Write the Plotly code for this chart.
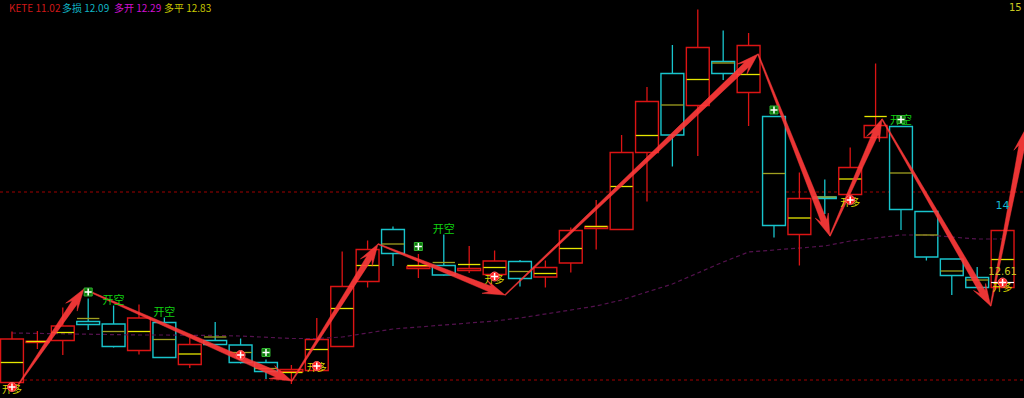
import math
import plotly.graph_objects as go

# ---------------- data ----------------
opens  = [10.52, 11.32, 11.36, 11.74, 11.69, 11.16, 11.72, 10.88, 11.36, 11.27,
          10.92, 10.74, 10.76, 11.24, 12.54, 13.58, 12.80, 12.86, 12.76, 12.68,
          12.94, 12.63, 12.91, 13.60, 13.58, 15.12, 16.70, 16.06, 16.94, 16.32,
          15.84, 13.48, 14.23, 14.28, 15.42, 15.64, 13.94, 12.99, 12.62, 12.42]
highs  = [11.54, 11.55, 12.02, 12.20, 12.06, 12.08, 11.82, 11.41, 11.73, 11.40,
          10.98, 10.87, 11.81, 13.14, 13.36, 13.64, 13.09, 13.48, 13.25, 13.16,
          12.97, 12.96, 13.62, 14.17, 15.47, 16.43, 17.27, 17.98, 17.56, 17.51,
          15.84, 14.72, 14.58, 15.22, 16.90, 15.64, 13.94, 12.99, 12.83, 13.56]
lows   = [10.50, 11.19, 11.07, 11.57, 11.22, 11.08, 11.01, 10.81, 11.27, 10.90,
          10.59, 10.49, 10.75, 11.24, 12.42, 12.85, 12.61, 12.66, 12.71, 12.68,
          12.44, 12.42, 12.72, 13.18, 13.58, 14.14, 14.84, 15.05, 16.57, 15.65,
          13.42, 12.86, 13.89, 14.28, 15.42, 13.57, 12.96, 12.27, 12.42, 12.42]
closes = [11.39, 11.34, 11.65, 11.68, 11.24, 11.81, 11.02, 11.28, 11.28, 10.92,
          10.74, 10.78, 11.38, 12.44, 13.18, 13.10, 12.84, 12.67, 12.80, 12.95,
          12.60, 12.82, 13.56, 13.64, 15.12, 16.14, 15.47, 17.22, 16.70, 17.26,
          13.66, 14.20, 14.20, 14.82, 15.66, 13.98, 13.03, 12.66, 12.42, 13.56]
mids   = [10.92, 11.34, 11.52, 11.80, 11.54, 11.54, 11.38, 11.09, 11.43, 11.12,
          10.80, 10.72, 11.18, 12.00, 12.86, 13.29, 12.86, 12.92, 12.88, 12.82,
          12.74, 12.70, 13.20, 13.64, 14.44, 15.46, 16.07, 16.58, 16.91, 16.68,
          14.70, 13.81, 14.23, 14.59, 15.84, 14.71, 13.47, 12.75, 12.57, 12.98]
ma     = [11.51, 11.50, 11.49, 11.49, 11.48, 11.47, 11.47, 11.47, 11.46, 11.45,
          11.43, 11.40, 11.40, 11.43, 11.51, 11.59, 11.63, 11.67, 11.71, 11.75,
          11.81, 11.89, 11.97, 12.05, 12.17, 12.33, 12.49, 12.71, 12.93, 13.13,
          13.17, 13.21, 13.25, 13.35, 13.41, 13.47, 13.47, 13.43, 13.39, 13.39]

levels = [14.33, 10.57]

zig_x = [0.24, 2.83, 11.02, 14.41, 19.41, 29.37, 32.20, 34.25, 38.53, 39.88]
zig_p = [10.47, 12.39, 10.55, 13.29, 12.27, 17.09, 13.45, 15.79, 12.05, 15.57]

long_idx = [0, 9, 12, 19, 33, 39]
long_mark = [10.43, 11.07, 10.85, 12.64, 14.17, 12.52]
long_lbl_idx = [0, 12, 19, 33, 39]
long_lbl_p = [10.37, 10.81, 12.57, 14.11, 12.40]

flag_idx = [3, 10, 16, 30, 35]
flag_p = [12.33, 11.12, 13.24, 15.97, 15.78]
short_lbl_idx = [4, 6, 17, 35]
short_lbl_p = [12.15, 11.91, 13.57, 15.75]

legend_texts = ["KETE 11.02", "多损 12.09", "多开 12.29", "多平 12.83"]
legend_colors = ["#d01818", "#10b4c4", "#d010d0", "#c8c800"]
legend_px = [8, 61, 113, 163]
last_price_text = "12.61"
last_price_pos = 12.73
last_line = 12.52
side_label = ("14", 14.05)

# ---------------- geometry ----------------
W, H = 1024, 398
X0, X1 = -0.472, 39.843
Y0, Y1 = 10.21, 18.17
RED = "#dc1414"
CYAN = "#18c4cc"
n = len(opens)
idx = list(range(n))


def px(i):
    return (i - X0) / (X1 - X0) * W


def py(p):
    return (Y1 - p) / (Y1 - Y0) * H


def ix(x):
    return X0 + x / W * (X1 - X0)


def ip(y):
    return Y1 - y / H * (Y1 - Y0)


fig = go.Figure()

# moving average (dashed purple)
fig.add_trace(go.Scatter(x=idx, y=ma, mode="lines",
                         line=dict(color="#54124e", width=1.2, dash="4px,3px"),
                         hoverinfo="skip"))

# wicks
for up in (True, False):
    wx, wy = [], []
    for i in idx:
        o, c = opens[i], closes[i]
        if (c >= o) != up:
            continue
        top, bot = max(o, c), min(o, c)
        if highs[i] > top:
            wx += [i, i, None]
            wy += [highs[i], top, None]
        if lows[i] < bot:
            wx += [i, i, None]
            wy += [bot, lows[i], None]
    fig.add_trace(go.Scatter(x=wx, y=wy, mode="lines",
                             line=dict(color=RED if up else CYAN, width=1.3),
                             hoverinfo="skip"))

# bodies (hollow)
for up in (True, False):
    bx, bb, bh = [], [], []
    for i in idx:
        o, c = opens[i], closes[i]
        if (c >= o) != up:
            continue
        bx.append(i)
        bb.append(min(o, c))
        bh.append(max(abs(c - o), 0.025))
    fig.add_trace(go.Bar(x=bx, y=bh, base=bb, width=0.9,
                         marker=dict(color="black",
                                     line=dict(color=RED if up else CYAN, width=1.4)),
                         hoverinfo="skip"))

# mid lines
for up in (True, False):
    mx, my = [], []
    for i in idx:
        if (closes[i] >= opens[i]) != up:
            continue
        mx += [i - 0.44, i + 0.44, None]
        my += [mids[i], mids[i], None]
    fig.add_trace(go.Scatter(x=mx, y=my, mode="lines",
                             line=dict(color="#e6e600" if up else "#a0a020", width=1.3),
                             hoverinfo="skip"))

# arrows (tapered polygons built in pixel space)
for k in range(len(zig_x) - 1):
    sx, sy = px(zig_x[k]), py(zig_p[k])
    ex, ey = px(zig_x[k + 1]), py(zig_p[k + 1])
    L = math.hypot(ex - sx, ey - sy)
    ux, uy = (ex - sx) / L, (ey - sy) / L
    nx, ny = -uy, ux
    hl, hw, w0, w1 = 22.0, 7.0, 1.0, 6.0
    cx, cy = ex - ux * hl, ey - uy * hl
    jx, jy = ex - ux * (hl - 6), ey - uy * (hl - 6)
    pts = [(sx + nx * w0 / 2, sy + ny * w0 / 2),
           (jx + nx * w1 / 2, jy + ny * w1 / 2),
           (cx + nx * hw, cy + ny * hw),
           (ex, ey),
           (cx - nx * hw, cy - ny * hw),
           (jx - nx * w1 / 2, jy - ny * w1 / 2),
           (sx - nx * w0 / 2, sy - ny * w0 / 2)]
    fig.add_trace(go.Scatter(x=[ix(p[0]) for p in pts] + [ix(pts[0][0])],
                             y=[ip(p[1]) for p in pts] + [ip(pts[0][1])],
                             mode="lines", fill="toself",
                             fillcolor="rgba(255,58,58,0.92)",
                             line=dict(color="rgba(255,58,58,0.92)", width=0.5),
                             hoverinfo="skip"))

# last price white line
fig.add_trace(go.Scatter(x=[n - 1 - 0.45, n - 1 + 0.45], y=[last_line, last_line],
                         mode="lines", line=dict(color="white", width=1.2),
                         hoverinfo="skip"))

# labels
fig.add_trace(go.Scatter(x=long_lbl_idx, y=long_lbl_p, mode="text", text=["开多"] * len(long_lbl_idx),
                         textfont=dict(color="#d8d800", size=10, family="Noto Sans CJK SC"),
                         hoverinfo="skip"))
fig.add_trace(go.Scatter(x=short_lbl_idx, y=short_lbl_p, mode="text", text=["开空"] * len(short_lbl_idx),
                         textfont=dict(color="#10d010", size=11, family="Noto Sans CJK SC"),
                         hoverinfo="skip"))

# signal markers
fig.add_trace(go.Scatter(x=flag_idx, y=flag_p, mode="markers",
                         marker=dict(symbol="square", size=8, color="#0a7a0a",
                                     line=dict(color="#30b030", width=1)),
                         hoverinfo="skip"))
fig.add_trace(go.Scatter(x=long_idx, y=long_mark, mode="markers",
                         marker=dict(symbol="circle", size=9, color="#ff2020",
                                     line=dict(color="#ff6060", width=1)),
                         hoverinfo="skip"))
fig.add_trace(go.Scatter(x=flag_idx + long_idx, y=flag_p + long_mark, mode="markers",
                         marker=dict(symbol="cross-thin", size=5,
                                     line=dict(color="white", width=1.5)),
                         hoverinfo="skip"))

# price labels on the right
fig.add_trace(go.Scatter(x=[n - 1], y=[last_price_pos], mode="text", text=[last_price_text],
                         textfont=dict(color="#c8c820", size=10, family="DejaVu Sans"),
                         hoverinfo="skip"))
fig.add_trace(go.Scatter(x=[n - 1], y=[side_label[1]], mode="text", text=[side_label[0]],
                         textfont=dict(color="#18b8d0", size=11, family="DejaVu Sans"),
                         hoverinfo="skip"))

shapes = [dict(type="line", xref="paper", yref="y", x0=0, x1=1, y0=lv, y1=lv,
               line=dict(color="#a00000", width=1, dash="3px,3px"), layer="below")
          for lv in levels]

annotations = []
for txt, col, xp in zip(legend_texts, legend_colors, legend_px):
    annotations.append(dict(x=xp / W, y=1 - 8 / H, xref="paper", yref="paper",
                            text=txt, showarrow=False, xanchor="left", yanchor="middle",
                            borderpad=0,
                            font=dict(color=col, size=10, family="Noto Sans CJK SC")))
annotations.append(dict(x=1 - 1 / W, y=1 - 8 / H, xref="paper", yref="paper", text="15",
                        showarrow=False, xanchor="right", yanchor="middle", borderpad=0,
                        font=dict(color="#c8c820", size=10, family="DejaVu Sans")))

fig.update_layout(
    width=W, height=H,
    margin=dict(l=0, r=0, t=0, b=0),
    paper_bgcolor="black", plot_bgcolor="black",
    showlegend=False, barmode="overlay",
    xaxis=dict(range=[X0, X1], visible=False, fixedrange=True),
    yaxis=dict(range=[Y0, Y1], visible=False, fixedrange=True),
    shapes=shapes, annotations=annotations,
)

fig.write_html("out.html")
